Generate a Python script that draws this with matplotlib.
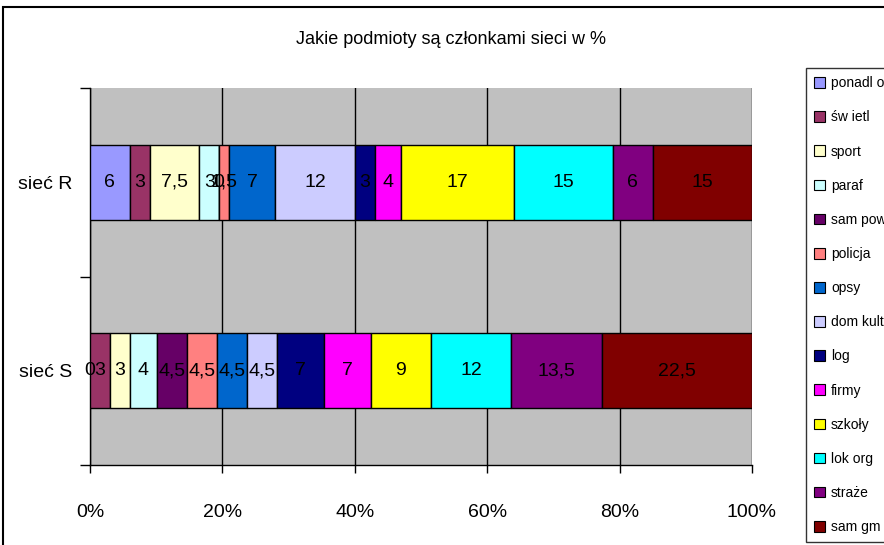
import matplotlib
matplotlib.use("Agg")
import matplotlib.pyplot as plt
from matplotlib.patches import Patch, Rectangle

fams = ['Liberation Sans Narrow', 'Liberation Sans', 'DejaVu Sans']
plt.rcParams['font.family'] = fams

title = "Jakie podmioty są członkami sieci w %"
categories = ["sieć R", "sieć S"]
series_names = ["ponadl or", "św ietl", "sport", "paraf", "sam pow", "policja", "opsy",
                "dom kult", "log", "firmy", "szkoły", "lok org", "straże", "sam gm"]
values_R = [6, 3, 7.5, 3, 0, 1.5, 7, 12, 3, 4, 17, 15, 6, 15]
values_S = [0, 3, 3, 4, 4.5, 4.5, 4.5, 4.5, 7, 7, 9, 12, 13.5, 22.5]
colors = ["#9999FF", "#993366", "#FFFFCC", "#CCFFFF", "#660066", "#FF8080", "#0066CC",
          "#CCCCFF", "#000080", "#FF00FF", "#FFFF00", "#00FFFF", "#800080", "#800000"]
xtick_labels = ["0%", "20%", "40%", "60%", "80%", "100%"]

W, H = 884, 545
fig = plt.figure(figsize=(W / 100, H / 100), dpi=100)
ax = fig.add_axes([90 / W, 1 - 465 / H, (752 - 90) / W, (465 - 88) / H])
ax.set_facecolor("#C0C0C0")

ypos = [1, 0]
data = [values_R, values_S]
totals = [sum(v) for v in data]
lefts = [0.0, 0.0]
for i, name in enumerate(series_names):
    for j in range(2):
        val = data[j][i]
        pct = val / totals[j] * 100
        ax.barh(ypos[j], pct, left=lefts[j], height=0.4, color=colors[i],
                edgecolor="black", linewidth=1.0, zorder=3)
        txt = ("%g" % val).replace(".", ",")
        ax.text(lefts[j] + pct / 2, ypos[j], txt, ha="center", va="center",
                fontsize=14, color="black", zorder=4)
        lefts[j] += pct

ax.set_xlim(0, 100)
ax.set_ylim(-0.5, 1.5)
ax.set_xticks([0, 20, 40, 60, 80, 100])
ax.set_xticklabels(xtick_labels, fontsize=14)
ax.xaxis.grid(True, color="black", linewidth=1.0, zorder=1)
ax.set_axisbelow(True)
ax.tick_params(axis="x", length=6, width=1, pad=22, direction="out")

ax.set_yticks([-0.5, 0.5, 1.5])
ax.set_yticklabels([])
ax.set_yticks(ypos, minor=True)
ax.set_yticklabels(categories, minor=True, fontsize=14)
ax.tick_params(axis="y", which="major", length=7, width=1, direction="out")
ax.tick_params(axis="y", which="minor", length=0, pad=13)

for s in ["top", "right"]:
    ax.spines[s].set_visible(False)
ax.spines["left"].set_linewidth(1.0)
ax.spines["bottom"].set_linewidth(1.0)

fig.text(451 / W, 1 - 40 / H, title, ha="center", va="center", fontsize=13)

# outer chart border
fig.patches.append(Rectangle((3 / W, -0.1), 1.2, 1 - 7 / H + 0.1, transform=fig.transFigure,
                             fill=False, edgecolor="black", linewidth=1.5))

handles = [Patch(facecolor=c, edgecolor="black", linewidth=0.8) for c in colors]
leg = fig.legend(handles, series_names, loc="upper left",
                 bbox_to_anchor=(806 / W, 1 - 68 / H), frameon=True, fancybox=False,
                 fontsize=10, handlelength=0.8, handleheight=0.8, handletextpad=0.4,
                 labelspacing=1.45, borderpad=0.6, borderaxespad=0)
leg.get_frame().set_edgecolor("black")
leg.get_frame().set_linewidth(1.0)

fig.savefig("out.png", dpi=100)
